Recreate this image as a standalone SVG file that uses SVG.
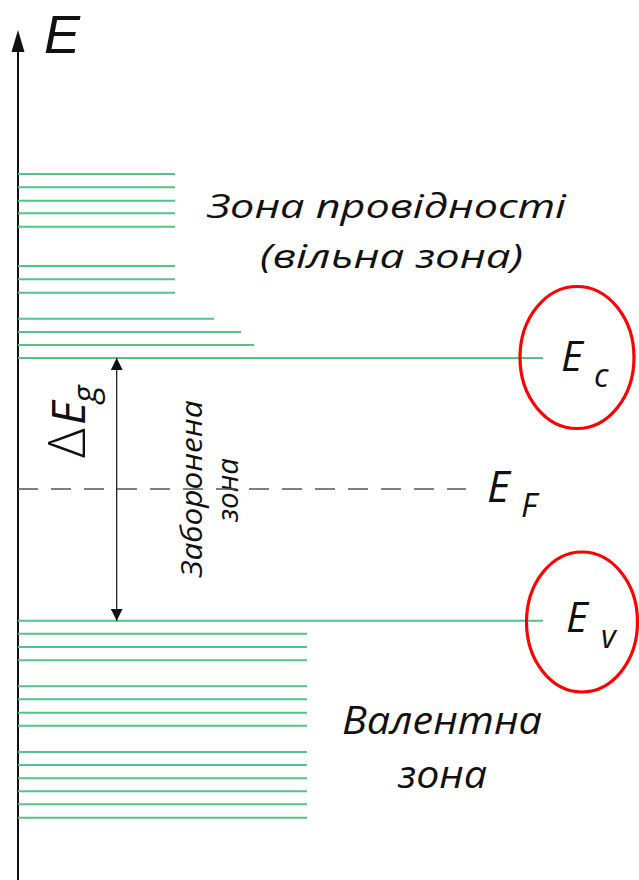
<svg xmlns="http://www.w3.org/2000/svg" width="639" height="880" viewBox="0 0 639 880">
<style>
.lvl{stroke:#52c487;stroke-width:1.9;fill:none}
.t{font-family:"Open Sans","Noto Sans","DejaVu Sans",sans-serif;font-style:italic;fill:#111}
.ring{fill:none;stroke:#ff0000;stroke-width:3.2}
</style>
<defs>
<marker id="ah" viewBox="0 0 12 12" refX="12" refY="6" markerWidth="12" markerHeight="12" markerUnits="userSpaceOnUse" orient="auto-start-reverse">
<path d="M0,0 L12,6 L0,12 Z" fill="#111"/>
</marker>
</defs>
<rect width="639" height="880" fill="#fff"/>
<g id="axis">
<line x1="18" y1="50" x2="18" y2="880" stroke="#111" stroke-width="2"/>
<path d="M18,30 L11.5,52 L24.5,52 Z" fill="#111"/>
<text x="44" y="53" font-size="54" font-family="'Liberation Sans',Arial,sans-serif" font-style="italic" fill="#111">E</text>
</g>
<g id="conduction-band">
<line class="lvl" x1="18" y1="174" x2="175" y2="174"/>
<line class="lvl" x1="18" y1="187.3" x2="175" y2="187.3"/>
<line class="lvl" x1="18" y1="200.7" x2="175" y2="200.7"/>
<line class="lvl" x1="18" y1="213.3" x2="175" y2="213.3"/>
<line class="lvl" x1="18" y1="226.7" x2="175" y2="226.7"/>
<line class="lvl" x1="18" y1="266" x2="175" y2="266"/>
<line class="lvl" x1="18" y1="279.3" x2="175" y2="279.3"/>
<line class="lvl" x1="18" y1="292.7" x2="175" y2="292.7"/>
<line class="lvl" x1="18" y1="318.7" x2="214" y2="318.7"/>
<line class="lvl" x1="18" y1="332" x2="241" y2="332"/>
<line class="lvl" x1="18" y1="345" x2="254" y2="345"/>
<line class="lvl" x1="18" y1="358" x2="543" y2="358"/>
<text class="t" x="207" y="218" font-size="32" textLength="359" lengthAdjust="spacingAndGlyphs">Зона провідності</text>
<text class="t" x="260" y="268" font-size="32" textLength="263" lengthAdjust="spacingAndGlyphs">(вільна зона)</text>
</g>
<g id="valence-band">
<line class="lvl" x1="18" y1="620.7" x2="543" y2="620.7"/>
<line class="lvl" x1="18" y1="633.7" x2="307" y2="633.7"/>
<line class="lvl" x1="18" y1="647" x2="307" y2="647"/>
<line class="lvl" x1="18" y1="660.3" x2="307" y2="660.3"/>
<line class="lvl" x1="18" y1="686.3" x2="307" y2="686.3"/>
<line class="lvl" x1="18" y1="699.3" x2="307" y2="699.3"/>
<line class="lvl" x1="18" y1="712.7" x2="307" y2="712.7"/>
<line class="lvl" x1="18" y1="725.7" x2="307" y2="725.7"/>
<line class="lvl" x1="18" y1="752" x2="307" y2="752"/>
<line class="lvl" x1="18" y1="765" x2="307" y2="765"/>
<line class="lvl" x1="18" y1="778.3" x2="307" y2="778.3"/>
<line class="lvl" x1="18" y1="791.3" x2="307" y2="791.3"/>
<line class="lvl" x1="18" y1="804.3" x2="307" y2="804.3"/>
<line class="lvl" x1="18" y1="817.7" x2="307" y2="817.7"/>
<text class="t" x="342" y="734" font-size="38" textLength="200" lengthAdjust="spacingAndGlyphs">Валентна</text>
<text class="t" x="398" y="788" font-size="38" textLength="89" lengthAdjust="spacingAndGlyphs">зона</text>
</g>
<g id="forbidden-gap">
<text class="t" transform="translate(202,489) rotate(-90)" x="0" y="0" font-size="30" text-anchor="middle" textLength="177" lengthAdjust="spacingAndGlyphs">Заборонена</text>
<text class="t" transform="translate(238,490) rotate(-90)" x="0" y="0" font-size="30" text-anchor="middle" textLength="64" lengthAdjust="spacingAndGlyphs">зона</text>
<text class="t" transform="translate(85,458) rotate(-90)" font-size="46"><tspan x="0" y="0" font-style="normal" font-size="52" font-weight="300">Δ</tspan><tspan x="33" y="0">E</tspan><tspan x="55" y="12" font-size="34">g</tspan></text>
</g>
<g id="fermi-level">
<line x1="18" y1="489" x2="466" y2="489" stroke="#555" stroke-width="1.5" stroke-dasharray="20 13"/>
<text class="t" x="487" y="502" font-size="44">E</text>
<text class="t" x="521" y="517" font-size="33">F</text>
</g>
<g id="Ec">
<ellipse class="ring" cx="577" cy="357.5" rx="57" ry="71"/>
<text class="t" x="561" y="371" font-size="42">E</text>
<text class="t" x="594" y="387" font-size="32">c</text>
</g>
<g id="Ev">
<ellipse class="ring" cx="582" cy="622" rx="55.5" ry="70"/>
<text class="t" x="566" y="632" font-size="42">E</text>
<text class="t" x="601" y="648" font-size="32">v</text>
</g>
<g id="connectors">
<line x1="116.7" y1="358" x2="116.7" y2="620.7" stroke="#111" stroke-width="1.2" marker-start="url(#ah)" marker-end="url(#ah)"/>
</g>
</svg>
